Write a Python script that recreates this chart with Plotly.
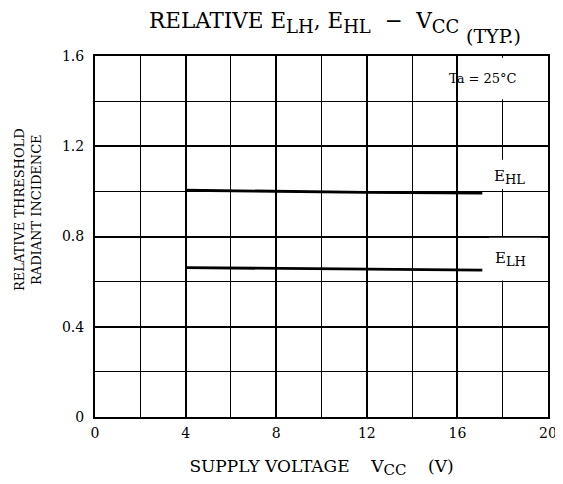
import plotly.graph_objects as go

# supply voltage (V) and relative threshold radiant incidence
vcc = [4, 8, 12, 17.1]
e_hl = [1.005, 1.0, 0.996, 0.992]
e_lh = [0.662, 0.658, 0.655, 0.651]

x_ticks = [0, 4, 8, 12, 16, 20]
y_ticks = [0, 0.4, 0.8, 1.2, 1.6]
y_labels = ["0", "0.4", "0.8", "1.2", "1.6"]

font = "DejaVu Serif"
ink = "black"


def sub(s, size=15):
    return f"<sub><span style='font-size:{size}px'>{s}</span></sub>"


fig = go.Figure()
for y in (e_hl, e_lh):
    fig.add_trace(go.Scatter(x=vcc, y=y, mode="lines",
                             line=dict(color=ink, width=2.8), showlegend=False))

fig.update_xaxes(range=[0, 20], tickvals=x_ticks, ticks="", showline=True, mirror=True,
                 linecolor=ink, linewidth=2, showgrid=True, gridcolor=ink, gridwidth=1.8,
                 minor=dict(dtick=2, showgrid=True, gridcolor=ink, gridwidth=0.8),
                 zeroline=False, automargin=False, ticklabelstandoff=2,
                 tickfont=dict(size=14, family=font, color=ink),
                 title=dict(text="SUPPLY VOLTAGE    V" + sub("CC", 15) + "    (V)", standoff=20,
                            font=dict(size=17, family=font, color=ink)))
fig.update_yaxes(range=[0, 1.6], tickvals=y_ticks, ticktext=y_labels, ticks="", showline=True,
                 mirror=True, linecolor=ink, linewidth=2, showgrid=True, gridcolor=ink,
                 gridwidth=1.8, minor=dict(dtick=0.2, showgrid=True, gridcolor=ink, gridwidth=0.8),
                 zeroline=False, automargin=False, ticklabelstandoff=6,
                 tickfont=dict(size=14, family=font, color=ink))

# white patches that hide the grid behind the labels
for x0, x1, y0, y1 in [(16.08, 19.92, 1.408, 1.592), (17.4, 19.7, 1.01, 1.14),
                       (17.4, 19.7, 0.605, 0.795)]:
    fig.add_shape(type="rect", x0=x0, x1=x1, y0=y0, y1=y1, fillcolor="white",
                  line_width=0, layer="above")

fig.add_annotation(x=17.13, y=1.5, text="Ta = 25°C", showarrow=False,
                   font=dict(size=13, family=font, color=ink))
fig.add_annotation(x=18.3, y=1.064, text="E" + sub("HL", 13), showarrow=False,
                   font=dict(size=15, family=font, color=ink))
fig.add_annotation(x=18.35, y=0.70, text="E" + sub("LH", 13), showarrow=False,
                   font=dict(size=15, family=font, color=ink))
fig.add_annotation(x=-0.148, y=0.576, xref="paper", yref="paper", xanchor="center",
                   yanchor="middle", textangle=-90, showarrow=False,
                   text="RELATIVE THRESHOLD<br>RADIANT INCIDENCE",
                   font=dict(size=13, family=font, color=ink))
fig.add_annotation(x=0.115, y=1.0, xref="paper", yref="paper", xanchor="left",
                   yanchor="top", yshift=50, showarrow=False,
                   text="RELATIVE E" + sub("LH", 18) + ", E" + sub("HL", 18)
                        + "  −  V" + sub("CC", 18),
                   font=dict(size=21.5, family=font, color=ink))
fig.add_annotation(x=0.879, y=1.0, xref="paper", yref="paper", xanchor="center",
                   yanchor="middle", yshift=20, showarrow=False,
                   text="(TYP.)", font=dict(size=19, family=font, color=ink))

# the page body adds an 8 px margin, so the figure is sized to the rest of the window
fig.update_layout(width=555, height=476, margin=dict(l=87, r=15, t=48, b=67),
                  plot_bgcolor="white", paper_bgcolor="white")
fig.write_html("out.html")
